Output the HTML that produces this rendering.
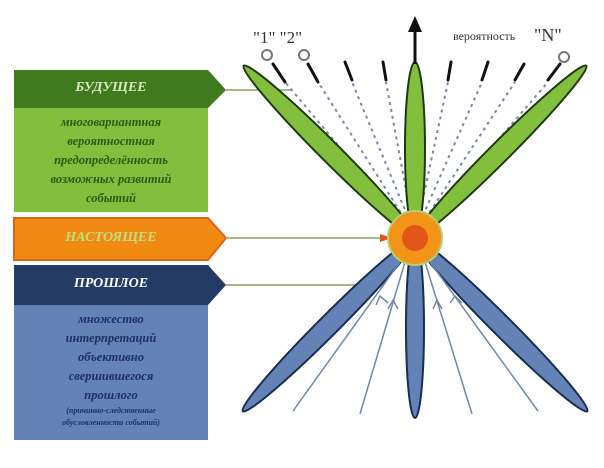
<!DOCTYPE html>
<html><head><meta charset="utf-8"><style>
body{margin:0;background:#fff;width:604px;height:468px;overflow:hidden;font-family:"Liberation Serif",serif}
.t{position:absolute;text-align:center;font-style:italic;font-weight:bold}
</style></head><body>
<svg width="604" height="468" style="position:absolute;left:0;top:0">
<path d="M14,70H208L226,90L208,108H14Z" fill="#3f7a1e"/>
<rect x="14" y="108" width="194" height="104" fill="#82bf3c"/>
<path d="M14,218H208L226,238L208,260H14Z" fill="#f18a12" stroke="#e2621a" stroke-width="2"/>
<path d="M14,265H208L226,285L208,305H14Z" fill="#243b66"/>
<rect x="14" y="305" width="194" height="135" fill="#6382b5"/>
<line x1="226" y1="90" x2="292" y2="90" stroke="#a8b880" stroke-width="2"/>
<line x1="226" y1="238" x2="388" y2="238" stroke="#a8b880" stroke-width="2"/>
<path d="M380,234L392,238L380,242z" fill="#e2561a"/>
<line x1="226" y1="285" x2="378" y2="285" stroke="#a8b880" stroke-width="2"/>
<g stroke="#7888a8" stroke-width="2" stroke-dasharray="3,4">
<line x1="405" y1="225" x2="285" y2="82"/>
<line x1="408" y1="224" x2="318" y2="82"/>
<line x1="410" y1="222" x2="352" y2="82"/>
<line x1="412" y1="222" x2="386" y2="82"/>
<line x1="418" y1="222" x2="448" y2="82"/>
<line x1="420" y1="222" x2="482" y2="82"/>
<line x1="422" y1="224" x2="515" y2="82"/>
<line x1="425" y1="225" x2="548" y2="82"/>
</g>
<g stroke="#111" stroke-width="3" stroke-linecap="round">
<line x1="285" y1="82" x2="273" y2="64"/>
<line x1="318" y1="82" x2="308" y2="64"/>
<line x1="352" y1="80" x2="345" y2="62"/>
<line x1="386" y1="80" x2="383" y2="62"/>
<line x1="448" y1="80" x2="451" y2="62"/>
<line x1="482" y1="80" x2="488" y2="62"/>
<line x1="515" y1="80" x2="524" y2="64"/>
<line x1="548" y1="80" x2="560" y2="64"/>
</g>
<g fill="#fff" stroke="#777" stroke-width="2">
<circle cx="267" cy="55" r="5"/><circle cx="304" cy="55" r="5"/><circle cx="564" cy="57" r="5"/>
</g>
<g stroke="#1e3a12" stroke-width="2" fill="#82bf3c">
<ellipse cx="330" cy="152" rx="122" ry="10" transform="rotate(45 330 152)"/>
<ellipse cx="500" cy="152" rx="122" ry="10" transform="rotate(-45 500 152)"/>
<ellipse cx="415" cy="148" rx="10" ry="86"/>
</g>
<g stroke="#1a2d50" stroke-width="2" fill="#6382b5">
<ellipse cx="329" cy="325" rx="122" ry="10" transform="rotate(-45 329 325)"/>
<ellipse cx="501" cy="325" rx="122" ry="10" transform="rotate(45 501 325)"/>
<ellipse cx="415" cy="328" rx="9" ry="90"/>
</g>
<g stroke="#7088a8" stroke-width="1.5" fill="none">
<line x1="293" y1="411" x2="400" y2="262"/>
<line x1="360" y1="414" x2="405" y2="262"/>
<line x1="472" y1="414" x2="425" y2="262"/>
<line x1="538" y1="411" x2="430" y2="262"/>
<path d="M376,305L380,296L388,303"/><path d="M388,309L393,300L398,309"/>
<path d="M433,309L437,300L442,309"/><path d="M450,303L455,296L462,303"/>
</g>
<circle cx="415" cy="238" r="27" fill="#f29418" stroke="#b6cc70" stroke-width="2"/>
<circle cx="415" cy="238" r="13" fill="#e2561a"/>
<line x1="415" y1="64" x2="415" y2="28" stroke="#111" stroke-width="3"/>
<path d="M408,32L415,16L422,32z" fill="#111"/>
<text x="253" y="43" font-family="Liberation Serif" font-size="17" fill="#333">"1" "2"</text>
<text x="453" y="40" font-family="Liberation Serif" font-size="12" fill="#333">вероятность</text>
<text x="534" y="41" font-family="Liberation Serif" font-size="18" fill="#333">"N"</text>
</svg>
<div class="t" style="left:14px;top:80px;width:194px;font-size:14px;color:#dde8c0">БУДУЩЕЕ</div>
<div class="t" style="left:14px;top:113px;width:194px;font-size:12.5px;line-height:19px;color:#2e5a14">многовариантная<br>вероятностная<br>предопределённость<br>возможных развитий<br>событий</div>
<div class="t" style="left:14px;top:230px;width:194px;font-size:14px;color:#bde080">НАСТОЯЩЕЕ</div>
<div class="t" style="left:14px;top:276px;width:194px;font-size:14px;color:#fff">ПРОШЛОЕ</div>
<div class="t" style="left:14px;top:310px;width:194px;font-size:12.5px;line-height:19px;color:#1e3060">множество<br>интерпретаций<br>объективно<br>свершившегося<br>прошлого</div>
<div class="t" style="left:14px;top:405px;width:194px;font-size:8px;line-height:12px;color:#1e3060">(причинно-следственные<br>обусловленности событий)</div>
</body></html>
